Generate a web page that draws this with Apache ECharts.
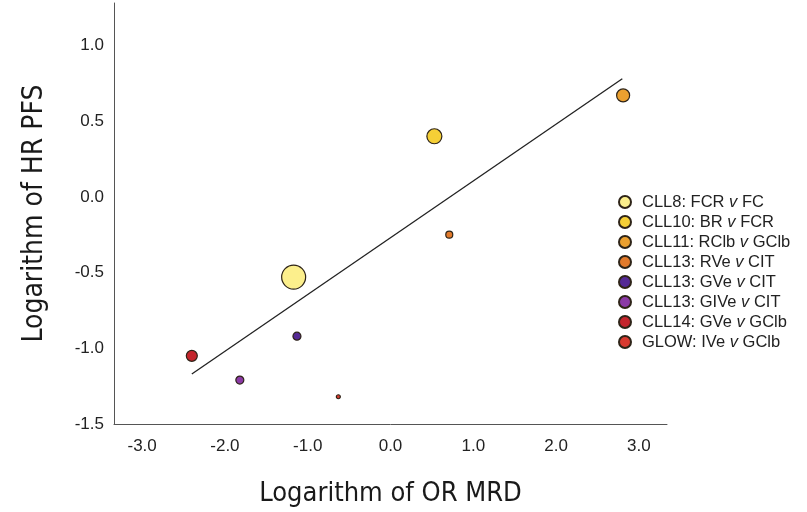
<!DOCTYPE html>
<html>
<head>
<meta charset="utf-8">
<script src="https://cdn.jsdelivr.net/npm/echarts@6/dist/echarts.min.js"></script>
<style>
  html, body { margin: 0; padding: 0; background: #fff; }
  #myChart { width: 807px; height: 512px; }
</style>
</head>
<body>
<div id="myChart"></div>
<script>
// trials (legend order)
var trials = [
  'CLL8: FCR v FC',
  'CLL10: BR v FCR',
  'CLL11: RClb v GClb',
  'CLL13: RVe v CIT',
  'CLL13: GVe v CIT',
  'CLL13: GIVe v CIT',
  'CLL14: GVe v GClb',
  'GLOW: IVe v GClb'
];
var logOR = [-1.17, 0.53, 2.81, 0.71, -1.13, -1.82, -2.40, -0.63];
var logHR = [-0.53, 0.40, 0.67, -0.25, -0.92, -1.21, -1.05, -1.32];
var weight = [24, 15, 13, 7, 8, 8, 11, 4];
var colors = ['#fcef8c', '#f5cf36', '#eba02f', '#e27a2b', '#552a95', '#8b3aa6', '#c4252c', '#d83a30'];

// regression line
var fitX = [-2.40, 2.80];
var fitY = [-1.17, 0.78];

var xTicks = [-3, -2, -1, 0, 1, 2, 3];
var yTicks = [-1.5, -1, -0.5, 0, 0.5, 1];

var narrow = "'Liberation Sans Narrow', 'DejaVu Sans Condensed', sans-serif";
var plain = "'Liberation Sans', Arial, sans-serif";

var myChart = echarts.init(document.getElementById('myChart'));

var series = [{
  type: 'line',
  name: 'fit',
  data: fitX.map(function (x, i) { return [x, fitY[i]]; }),
  symbol: 'none',
  silent: true,
  lineStyle: { color: '#222', width: 1.3 },
  z: 1
}];

trials.forEach(function (name, i) {
  series.push({
    type: 'scatter',
    name: name,
    data: [[logOR[i], logHR[i]]],
    symbolSize: weight[i],
    itemStyle: { color: colors[i], borderColor: '#2e2418', borderWidth: 1.2, opacity: 1 },
    z: 3
  });
});

var option = {
  animation: false,
  grid: { left: 114, right: 140, top: 3, bottom: 88 },
  xAxis: {
    type: 'value',
    min: -3.34, max: 3.34,
    name: 'Logarithm of OR MRD',
    nameLocation: 'middle',
    nameGap: 56,
    nameTextStyle: { fontFamily: narrow, fontSize: 27, color: '#1a1a1a' },
    axisLine: { show: true, onZero: false, lineStyle: { color: '#555', width: 1 } },
    axisTick: { show: false },
    splitLine: { show: false },
    axisLabel: {
      customValues: xTicks,
      margin: 14,
      fontFamily: plain, fontSize: 17, color: '#222',
      formatter: function (v) { return v.toFixed(1); }
    }
  },
  yAxis: {
    type: 'value',
    min: -1.5, max: 1.28,
    name: 'Logarithm of HR PFS',
    nameLocation: 'middle',
    nameGap: 65,
    nameTextStyle: { fontFamily: narrow, fontSize: 28, color: '#1a1a1a' },
    axisLine: { show: true, onZero: false, lineStyle: { color: '#555', width: 1 } },
    axisTick: { show: false },
    splitLine: { show: false },
    axisLabel: {
      customValues: yTicks,
      margin: 10,
      fontFamily: plain, fontSize: 17, color: '#222',
      formatter: function (v) { return v.toFixed(1); }
    }
  },
  legend: {
    data: trials,
    orient: 'vertical',
    left: 613,
    top: 188,
    itemWidth: 24,
    itemHeight: 12,
    itemGap: 2,
    icon: 'circle',
    textStyle: {
      fontFamily: plain, fontSize: 16.5, color: '#222', lineHeight: 18,
      rich: {
        a: { fontFamily: plain, fontSize: 16.5, color: '#222' },
        i: { fontFamily: plain, fontSize: 16.5, color: '#222', fontStyle: 'italic' }
      }
    },
    formatter: function (name) {
      var parts = name.split(' v ');
      return '{a|' + parts[0] + ' }{i|v}{a| ' + parts[1] + '}';
    }
  },
  series: series
};

myChart.setOption(option);
</script>
</body>
</html>
